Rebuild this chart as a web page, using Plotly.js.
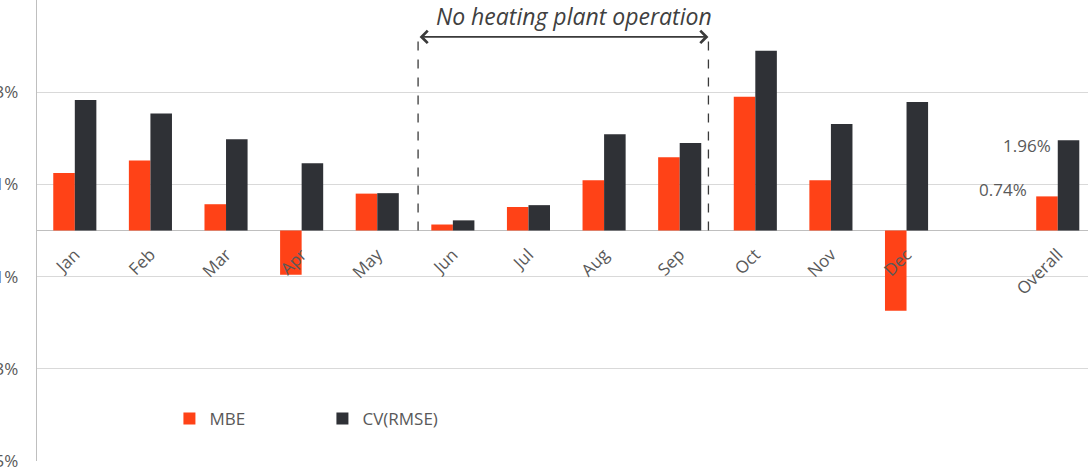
<!DOCTYPE html>
<html>
<head>
<meta charset="utf-8">
<script src="https://cdn.plot.ly/plotly-3.0.1.min.js"></script>
<style>
  html, body { margin: 0; padding: 0; background: #ffffff; }
  #chart { width: 1088px; height: 475px; }
</style>
</head>
<body>
<div id="chart"></div>
<script>
// Monthly calibration errors of the heating model, in percent
const months = ['Jan', 'Feb', 'Mar', 'Apr', 'May', 'Jun', 'Jul', 'Aug', 'Sep', 'Oct', 'Nov', 'Dec'];
const overallLabel = 'Overall';
const categories = months.concat([overallLabel]);

const mbeMonthly = [1.25, 1.52, 0.57, -0.96, 0.80, 0.13, 0.51, 1.09, 1.59, 2.90, 1.09, -1.74];
const cvMonthly  = [2.83, 2.54, 1.98, 1.46, 0.81, 0.22, 0.55, 2.09, 1.90, 3.90, 2.31, 2.79];
const mbeOverall = 0.74;
const cvOverall = 1.96;

const mbeValues = mbeMonthly.concat([mbeOverall]);
const cvValues = cvMonthly.concat([cvOverall]);

const yTickVals = [-5, -3, -1, 1, 3, 5];
const yTickText = ['-5%', '-3%', '-1%', '1%', '3%', '5%'];

const noteText = 'No heating plant operation';

const textGrey = '#595959';
const fontFamily = '"Open Sans", Lato, sans-serif';

// a blank slot separates the months from the overall figure
const axisOrder = months.concat([' ', overallLabel]);

const traces = [
  {
    type: 'bar', name: 'MBE', x: categories, y: mbeValues,
    marker: { color: '#FF4217' }, hoverinfo: 'skip'
  },
  {
    type: 'bar', name: 'CV(RMSE)', x: categories, y: cvValues,
    marker: { color: '#2F3136' }, hoverinfo: 'skip'
  }
];

const fmt = v => v.toFixed(2) + '%';

const layout = {
  width: 1088, height: 475,
  margin: { l: 37, r: 0, t: 0, b: 14 },
  paper_bgcolor: '#ffffff', plot_bgcolor: '#ffffff',
  font: { family: fontFamily, color: textGrey, size: 17 },
  barmode: 'group', bargap: 0.43, bargroupgap: 0,
  showlegend: true,
  legend: {
    orientation: 'h', x: 0.126, xanchor: 'left', y: 0.091, yanchor: 'middle',
    entrywidth: 108, entrywidthmode: 'pixels',
    font: { size: 17, color: textGrey }, bgcolor: 'rgba(0,0,0,0)'
  },
  xaxis: {
    type: 'category', categoryorder: 'array', categoryarray: axisOrder,
    range: [-0.5, 13.4], anchor: 'free', position: 0.5,
    showline: false, showgrid: false, ticks: '', tickangle: -45,
    ticklabelstandoff: 10,
    tickfont: { size: 17, color: textGrey }, fixedrange: true
  },
  yaxis: {
    range: [-5, 5], tickvals: yTickVals, ticktext: yTickText,
    showgrid: true, gridcolor: '#D9D9D9', gridwidth: 1.3,
    zeroline: true, zerolinecolor: '#BFBFBF', zerolinewidth: 1.3,
    showline: true, linecolor: '#BFBFBF', linewidth: 1.3,
    ticks: '', ticklabelstandoff: 14,
    tickfont: { size: 17, color: textGrey }, fixedrange: true
  },
  shapes: [
    { type: 'line', xref: 'x', yref: 'y', x0: 4.54, x1: 4.54, y0: 0, y1: 4.2,
      line: { color: '#3A3A3A', width: 1.3, dash: 'dash' } },
    { type: 'line', xref: 'x', yref: 'y', x0: 8.38, x1: 8.38, y0: 0, y1: 4.2,
      line: { color: '#3A3A3A', width: 1.3, dash: 'dash' } }
  ],
  annotations: [
    // double-headed arrow spanning the summer months
    { xref: 'x', yref: 'y', axref: 'x', ayref: 'y',
      x: 8.38, y: 4.2, ax: 4.54, ay: 4.2, text: '',
      showarrow: true, arrowside: 'end+start', arrowhead: 4, arrowsize: 1.5,
      arrowwidth: 1.6, arrowcolor: '#3A3A3A', standoff: 0, startstandoff: 0 },
    { xref: 'x', yref: 'paper', x: 6.6, y: 1, yanchor: 'top', yshift: 2,
      text: '<i>' + noteText + '</i>', showarrow: false,
      font: { size: 23, color: '#404040', family: fontFamily } },
    // value labels for the overall pair
    { xref: 'x', yref: 'y', x: overallLabel, y: cvOverall, text: fmt(cvOverall),
      showarrow: false, xanchor: 'right', yanchor: 'middle', xshift: -5, yshift: -5,
      font: { size: 17, color: textGrey } },
    { xref: 'x', yref: 'y', x: overallLabel, y: mbeOverall, text: fmt(mbeOverall),
      showarrow: false, xanchor: 'right', yanchor: 'middle', xshift: -29, yshift: 7,
      font: { size: 17, color: textGrey } }
  ]
};

Plotly.newPlot('chart', traces, layout, { displayModeBar: false, staticPlot: true });
</script>
</body>
</html>
